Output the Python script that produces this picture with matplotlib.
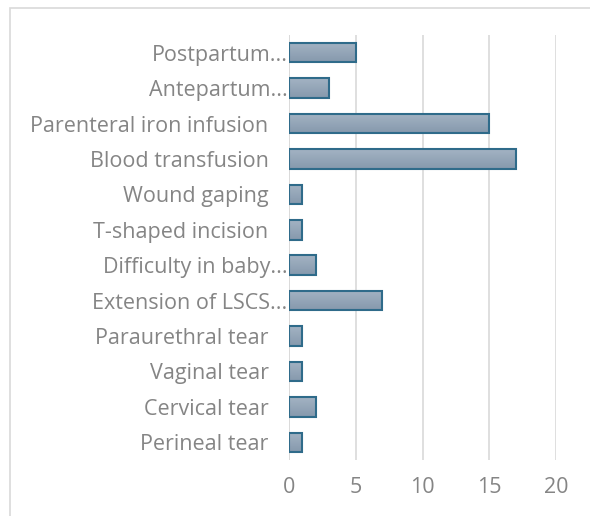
import numpy as np
import matplotlib.pyplot as plt
import matplotlib.transforms as mtransforms
from matplotlib.patches import Rectangle
from matplotlib.colors import LinearSegmentedColormap

categories = ["Postpartum...", "Antepartum...", "Parenteral iron infusion", "Blood transfusion",
              "Wound gaping", "T-shaped incision", "Difficulty in baby...", "Extension of LSCS...",
              "Paraurethral tear", "Vaginal tear", "Cervical tear", "Perineal tear"]
values = [5, 3, 15, 17, 1, 1, 2, 7, 1, 1, 2, 1]
xticks = [0, 5, 10, 15, 20]

plt.rcParams['font.family'] = ['Open Sans', 'DejaVu Sans']

fig = plt.figure(figsize=(5.9, 5.16), dpi=100)
# chart frame (light gray border, left and top visible)
fig.patches.append(Rectangle((10 / 590, -0.05), 1.0, (516 - 8) / 516 + 0.05,
                             transform=fig.transFigure, fill=False,
                             edgecolor='#d9d9d9', linewidth=1.2))

ax = fig.add_axes([289 / 590, (516 - 460) / 516, (556 - 289) / 590, (460 - 35) / 516])

y = np.arange(len(categories))
bars = ax.barh(y, values, height=0.55, color='none', edgecolor='#2f6b8a', linewidth=1.5, zorder=3)

grad = LinearSegmentedColormap.from_list('g', ['#a3b3c3', '#8699ad'])
for b in bars:
    x0, y0 = b.get_x(), b.get_y()
    w, h = b.get_width(), b.get_height()
    im = ax.imshow(np.linspace(0, 1, 50).reshape(-1, 1), cmap=grad, aspect='auto',
                   extent=(x0, x0 + w, y0, y0 + h), origin='lower', zorder=2)
    im.set_clip_path(b)

ax.set_ylim(len(categories) - 0.5, -0.5)
ax.set_xlim(0, 20)
ax.set_yticks(y)
ax.set_yticklabels(categories)
ax.set_xticks(xticks)
ax.set_xticklabels([str(t) for t in xticks])
ax.tick_params(axis='y', length=0, pad=1, labelsize=15.5, labelcolor='#858585')
ax.tick_params(axis='x', length=0, pad=12, labelsize=15.5, labelcolor='#858585')

# labels that are not truncated sit a little further from the axis
shift = mtransforms.ScaledTranslation(-19 / 100, 0, fig.dpi_scale_trans)
for lab in ax.get_yticklabels():
    if not lab.get_text().endswith('...'):
        lab.set_transform(lab.get_transform() + shift)

ax.grid(axis='x', color='#d9d9d9', linewidth=1.2, zorder=0)
ax.set_axisbelow(True)
for s in ax.spines.values():
    s.set_visible(False)
ax.axvline(0, color='#d9d9d9', linewidth=1.2, zorder=1)

fig.savefig('out.png', dpi=100)
